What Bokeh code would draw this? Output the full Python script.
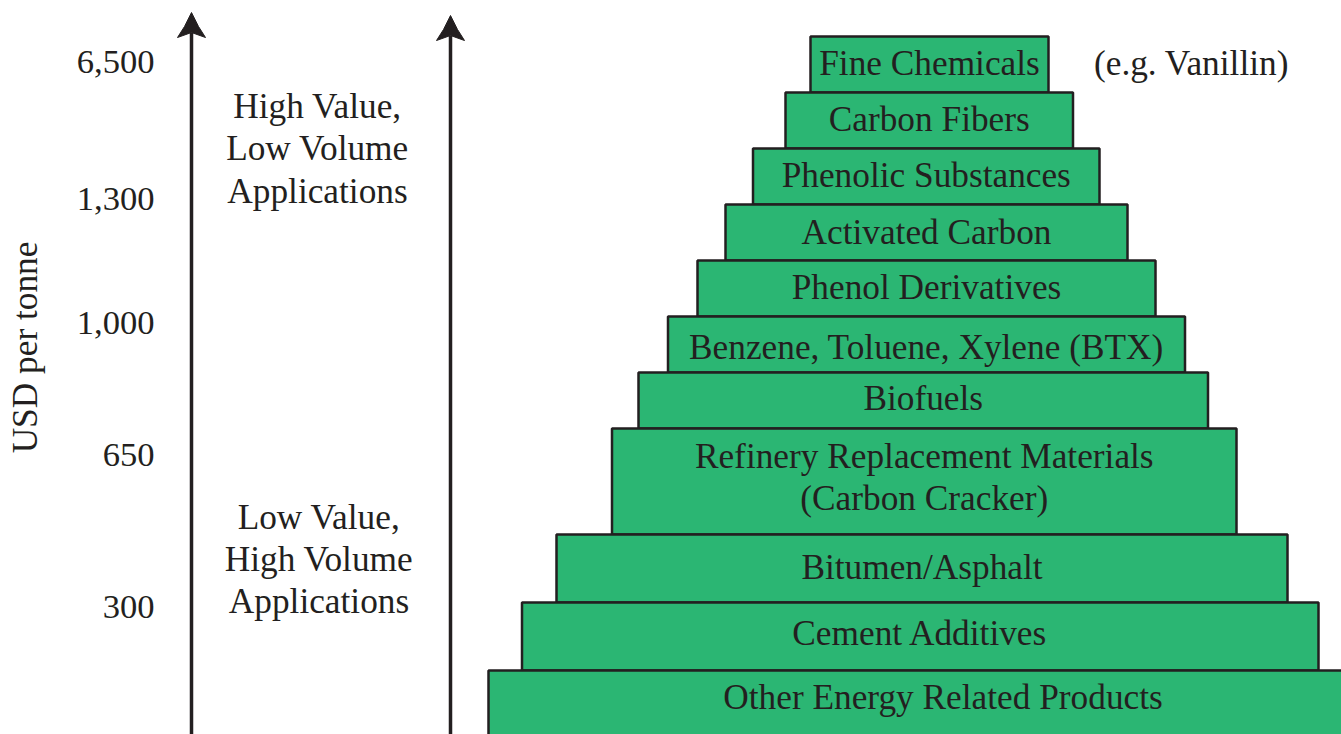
import math
from bokeh.plotting import figure
from bokeh.models import Range1d, ColumnDataSource
from bokeh.core.properties import value
from bokeh.embed import file_html
from bokeh.resources import INLINE

# ---------------- data ----------------
products = [
    "Fine Chemicals",
    "Carbon Fibers",
    "Phenolic Substances",
    "Activated Carbon",
    "Phenol Derivatives",
    "Benzene, Toluene, Xylene (BTX)",
    "Biofuels",
    "Refinery Replacement Materials\n(Carbon Cracker)",
    "Bitumen/Asphalt",
    "Cement Additives",
    "Other Energy Related Products",
]
bar_left = [810, 785, 752.5, 725, 697, 667.5, 638, 611.5, 556, 521.5, 488]
bar_right = [1048, 1072.5, 1099, 1127, 1155, 1184.5, 1207.5, 1236, 1287, 1318, 1397]
bar_top = [36, 92, 148, 204, 260, 316, 372, 428, 534, 602, 670]
bar_bottom = [92, 148, 204, 260, 316, 372, 428, 534, 602, 670, 760]

usd_labels = ["6,500", "1,300", "1,000", "650", "300"]
usd_tick_pos = [61, 198, 322, 454, 606]

side_notes = ["High Value,\nLow Volume\nApplications",
              "Low Value,\nHigh Volume\nApplications"]
example_note = "(e.g. Vanillin)"
y_title = "USD per tonne"

# ---------------- layout / style ----------------
label_y = [63, 119, 175, 232, 287, 347, 398, 477, 567, 633, 697]
side_note_x = [317, 318.5]
side_note_y = [148.5, 559]
example_x, example_y = 1191, 63
tick_label_x = 154
y_title_x, y_title_y = 25, 347
arrow_x = [191, 450]
arrow_tip = [12, 15]

GREEN = "#2BB673"
INK = "#231F20"
FONT = value("Liberation Serif")
FS = "35.3px"
TICK_FS = "34.6px"
LINE_H = 1.08

W, H = 1341, 734

p = figure(width=W, height=H, output_backend="svg", toolbar_location=None,
           x_range=Range1d(0, W), y_range=Range1d(H, 0),
           x_axis_type=None, y_axis_type=None,
           min_border_left=0, min_border_right=0,
           min_border_top=0, min_border_bottom=0)
p.outline_line_color = None
p.grid.visible = False
p.background_fill_color = "white"
p.border_fill_color = "white"

# value scale labels (USD per tonne)
p.text(x=[tick_label_x] * len(usd_labels), y=usd_tick_pos, text=usd_labels,
       text_font=FONT, text_font_size=TICK_FS, text_color=INK,
       text_align="right", text_baseline="middle")
p.text(x=[y_title_x], y=[y_title_y], text=[y_title], angle=math.pi / 2,
       text_font=FONT, text_font_size=FS, text_color=INK,
       text_align="center", text_baseline="middle")

# pyramid bars
src = ColumnDataSource(dict(
    left=bar_left, right=bar_right, top=bar_top, bottom=bar_bottom,
    name=products,
    lx=[(l + r) / 2 for l, r in zip(bar_left, bar_right)],
    ly=label_y,
))
p.quad(left="left", right="right", top="top", bottom="bottom", source=src,
       fill_color=GREEN, line_color=INK, line_width=2.5)
p.text(x="lx", y="ly", text="name", source=src, text_font=FONT,
       text_font_size=FS, text_color=INK, text_align="center",
       text_baseline="middle", text_line_height=LINE_H)

# side notes
p.text(x=side_note_x, y=side_note_y, text=side_notes, text_font=FONT,
       text_font_size=FS, text_color=INK, text_align="center",
       text_baseline="middle", text_line_height=LINE_H)
p.text(x=[example_x], y=[example_y], text=[example_note], text_font=FONT,
       text_font_size=FS, text_color=INK, text_align="center",
       text_baseline="middle")

# vertical arrows
for ax_x, tip in zip(arrow_x, arrow_tip):
    p.segment(x0=[ax_x], y0=[800], x1=[ax_x], y1=[tip + 20],
              line_color=INK, line_width=3.5)
    p.patch(x=[ax_x, ax_x + 7, ax_x + 14, ax_x, ax_x - 14, ax_x - 7],
            y=[tip, tip + 14, tip + 25, tip + 20, tip + 25, tip + 14],
            fill_color=INK, line_color=INK, line_width=1)

open("out.html", "w").write(file_html(p, INLINE))
